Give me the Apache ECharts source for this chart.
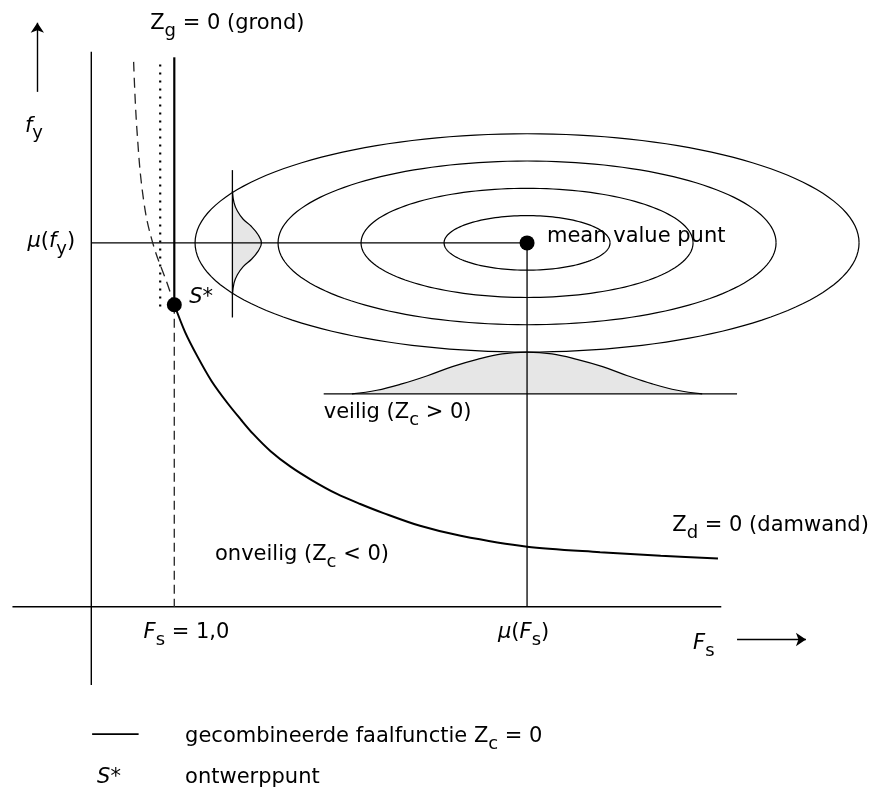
<!DOCTYPE html>
<html>
<head>
<meta charset="utf-8">
<script src="https://cdn.jsdelivr.net/npm/echarts@6/dist/echarts.min.js"></script>
<style>
  html, body { margin: 0; padding: 0; background: #ffffff; }
  #chart { width: 874px; height: 796px; }
</style>
</head>
<body>
<div id="chart"></div>
<script>
// Reliability diagram: safety factor Fs (horizontal) against soil strength fy (vertical)

// Mean value point and design point S*
const meanPoint = [5.25, 4.0];
const designPoint = [1.0, 3.32];

// Combined failure function Zc = 0, from S* towards large Fs
const failFs = [1.00, 1.13, 1.28, 1.45, 1.64, 1.80, 1.95, 2.16, 2.40, 2.66, 2.96, 3.24, 3.52, 3.96, 4.45, 5.25, 6.13, 6.86, 7.55];
const failFy = [3.32, 3.02, 2.75, 2.48, 2.24, 2.06, 1.90, 1.71, 1.54, 1.39, 1.24, 1.13, 1.03, 0.89, 0.78, 0.66, 0.60, 0.56, 0.53];

// Sheet pile branch (Zd = 0) continued above S*
const damFs = [0.51, 0.55, 0.63, 0.74, 0.92, 1.00];
const damFy = [5.99, 5.24, 4.47, 4.00, 3.54, 3.32];

// Equal-probability contours around the mean (semi-axes)
const contourSemiFs = [1, 2, 3, 4];
const contourSemiFy = [0.3, 0.6, 0.9, 1.2];

// Marginal density of Fs (drawn on its own baseline)
const pdfFsX = [3.14, 3.44, 3.74, 4.05, 4.35, 4.65, 4.95, 5.25, 5.55, 5.85, 6.16, 6.46, 6.76, 7.06, 7.36];
const pdfFsY = [2.34, 2.38, 2.45, 2.54, 2.64, 2.72, 2.78, 2.80, 2.78, 2.72, 2.64, 2.54, 2.45, 2.38, 2.34];

// Marginal density of fy (drawn sideways)
const pdfFyX = [1.70, 1.72, 1.76, 1.83, 1.93, 2.01, 2.05, 2.01, 1.93, 1.83, 1.76, 1.72, 1.70];
const pdfFyY = [3.43, 3.56, 3.65, 3.74, 3.82, 3.91, 4.00, 4.09, 4.18, 4.26, 4.35, 4.44, 4.57];

// Straight reference lines
const axisFs = [[-0.95, 0], [7.59, 0]];
const axisFy = [[0, 6.10], [0, -0.86]];
const meanFyLine = [[0, 4.0], [5.25, 4.0]];
const meanFsLine = [[5.25, 4.0], [5.25, 0]];
const grondLine = [[1.0, 6.04], [1.0, 3.32]];
const grondDotted = [[0.83, 5.96], [0.83, 3.24]];
const fsOneLine = [[1.0, 3.32], [1.0, 0]];
const pdfFsBase = [[2.80, 2.34], [7.78, 2.34]];
const pdfFyBase = [[1.70, 3.18], [1.70, 4.80]];
const arrowFy = [[-0.65, 5.66], [-0.65, 6.42]];
const arrowFs = [[7.78, -0.36], [8.61, -0.36]];
const legendLine = [[0.01, -1.40], [0.57, -1.40]];

// Annotations
const labelTexts = [
  '{t|Z}{sub|g}{t| = 0 (grond)}',
  '{i|f}{sub|y}',
  '{i|\u03bc}{t|(}{i|f}{sub|y}{t|)}',
  '{i|S}{t|*}',
  '{t|mean value punt}',
  '{t|veilig (Z}{sub|c}{t| > 0)}',
  '{t|onveilig (Z}{sub|c}{t| < 0)}',
  '{t|Z}{sub|d}{t| = 0 (damwand)}',
  '{i|F}{sub|s}{t| = 1,0}',
  '{i|\u03bc}{t|(}{i|F}{sub|s}{t|)}',
  '{i|F}{sub|s}',
  '{t|gecombineerde faalfunctie Z}{sub|c}{t| = 0}',
  '{i|S}{t|*}',
  '{t|ontwerppunt}'
];
const labelFs = [0.71, -0.80, -0.77, 1.18, 5.49, 2.80, 1.49, 7.00, 0.63, 4.90, 7.25, 1.13, 0.07, 1.13];
const labelFy = [6.38, 5.25, 3.98, 3.37, 4.04, 2.10, 0.54, 0.86, -0.32, -0.32, -0.44, -1.46, -1.91, -1.91];

const FONT = '"DejaVu Sans", sans-serif';
const rich = {
  t:   { fontFamily: FONT, fontSize: 21, color: '#000', lineHeight: 27, verticalAlign: 'top' },
  i:   { fontFamily: FONT, fontSize: 21, color: '#000', lineHeight: 27, verticalAlign: 'top', fontStyle: 'italic' },
  sub: { fontFamily: FONT, fontSize: 18, color: '#000', lineHeight: 17, verticalAlign: 'bottom' }
};

function segment(pts, width, type, color, smooth) {
  return {
    type: 'line',
    data: pts,
    showSymbol: false,
    symbol: 'none',
    smooth: smooth || false,
    silent: true,
    clip: false,
    z: 3,
    lineStyle: { color: color || '#000', width: width, type: type || 'solid' }
  };
}

function zip(xs, ys) { return xs.map((x, i) => [x, ys[i]]); }

function densityFill(xs, ys) {
  return {
    type: 'custom',
    data: [0],
    clip: false,
    silent: true,
    z: 2,
    renderItem: function (params, api) {
      return {
        type: 'polygon',
        shape: { points: xs.map((x, i) => api.coord([x, ys[i]])) },
        style: { fill: '#e6e6e6', stroke: null }
      };
    }
  };
}

const chart = echarts.init(document.getElementById('chart'), null, { renderer: 'canvas' });

chart.setOption({
  animation: false,
  backgroundColor: '#ffffff',
  grid: { left: 0, right: 0, top: 0, bottom: 0 },
  xAxis: { type: 'value', min: -1.1, max: 9.43, show: false },
  yAxis: { type: 'value', min: -2.08, max: 6.67, show: false },
  series: [
    densityFill(pdfFsX, pdfFsY),
    densityFill(pdfFyX, pdfFyY),
    segment(zip(pdfFsX, pdfFsY), 1.2, 'solid', '#000', 0.4),
    segment(zip(pdfFyX, pdfFyY), 1.2, 'solid', '#000', 0.4),
    {
      type: 'custom',
      data: zip(contourSemiFs, contourSemiFy),
      clip: false,
      silent: true,
      z: 3,
      renderItem: function (params, api) {
        const a = api.value(0), b = api.value(1);
        const pts = [];
        for (let k = 0; k <= 160; k++) {
          const t = 2 * Math.PI * k / 160;
          pts.push(api.coord([meanPoint[0] + a * Math.cos(t), meanPoint[1] + b * Math.sin(t)]));
        }
        return { type: 'polyline', shape: { points: pts }, style: { stroke: '#000', lineWidth: 1.2, fill: null } };
      }
    },
    segment(axisFs, 1.4),
    segment(axisFy, 1.4),
    segment(meanFyLine, 1.3),
    segment(meanFsLine, 1.3),
    segment(pdfFsBase, 1.3),
    segment(pdfFyBase, 1.3),
    segment(grondLine, 2.2),
    segment(grondDotted, 2.2, [2, 6]),
    segment(fsOneLine, 1.4, [9, 5], '#333'),
    segment(zip(damFs, damFy), 1.3, [10, 6], '#222', 0.4),
    segment(zip(failFs, failFy), 2, 'solid', '#000', 0.3),
    segment(legendLine, 1.6),
    {
      type: 'lines',
      coordinateSystem: 'cartesian2d',
      silent: true,
      symbol: ['none', 'arrow'],
      symbolSize: 10,
      lineStyle: { color: '#000', width: 1.4, opacity: 1 },
      data: [{ coords: arrowFy }, { coords: arrowFs }],
      z: 3
    },
    {
      type: 'scatter',
      data: [meanPoint, designPoint],
      symbol: 'circle',
      symbolSize: 15,
      itemStyle: { color: '#000', opacity: 1 },
      silent: true,
      z: 5
    },
    {
      type: 'scatter',
      data: zip(labelFs, labelFy),
      symbolSize: 0,
      silent: true,
      z: 6,
      itemStyle: { opacity: 1 },
      label: {
        show: true,
        position: [0, 0],
        align: 'left',
        verticalAlign: 'middle',
        color: '#000',
        opacity: 1,
        formatter: function (p) { return labelTexts[p.dataIndex]; },
        rich: rich
      }
    }
  ]
});
</script>
</body>
</html>
